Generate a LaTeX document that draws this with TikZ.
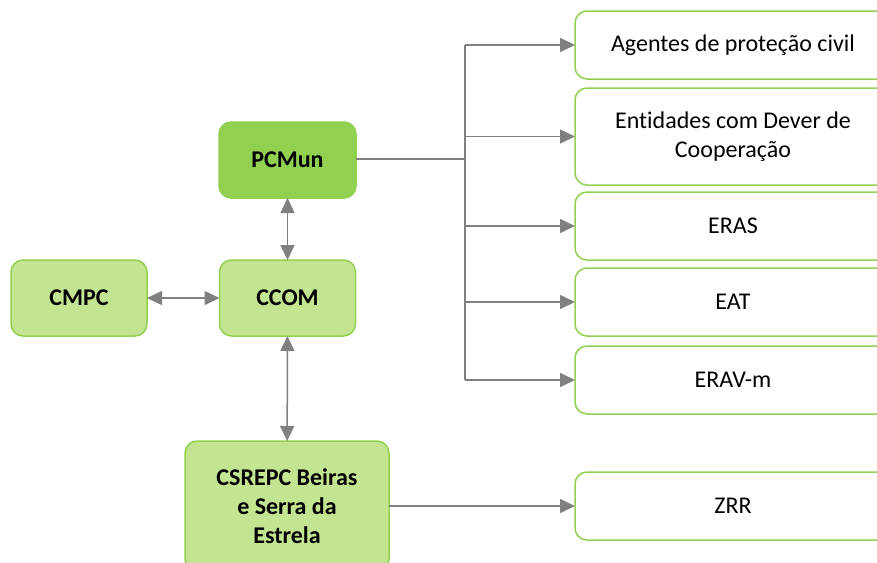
\documentclass[tikz,border=0pt]{standalone}
\usepackage{fontspec}
\setmainfont{Carlito}[Ligatures=NoCommon]
\usetikzlibrary{arrows.meta,positioning}
\definecolor{cDark}{HTML}{92D050}
\definecolor{cLite}{HTML}{C3E592}
\definecolor{cLink}{HTML}{808080}
\tikzset{
  org/.style  ={draw=cDark,line width=1.5pt,rounded corners=12pt,align=center,
                inner sep=4pt,font=\bfseries\fontsize{24}{29.3}\selectfont},
  main/.style ={org,fill=cDark,minimum width=137pt,minimum height=76pt},
  sub/.style  ={org,fill=cLite,minimum width=136pt,minimum height=76pt},
  unit/.style ={draw=cDark,fill=white,line width=1.5pt,rounded corners=12pt,
                align=center,anchor=west,minimum width=316pt,minimum height=68pt,
                font=\fontsize{24}{29.3}\selectfont},
  lnk/.style  ={draw=cLink,line width=1.5pt,-{Triangle[length=15pt,width=14pt]}},
  dlnk/.style ={lnk,{Triangle[length=15pt,width=14pt]}-{Triangle[length=15pt,width=14pt]}},
  trunk/.style={draw=cLink,line width=1.5pt},
}

\begin{document}
\begin{tikzpicture}[x=1pt,y=1pt,every node/.style={outer sep=0pt}]
\useasboundingbox (0,0) rectangle (877,-562);
\clip (0,0) rectangle (877,-562);

% command chain on the left
\node[main]                                        (pcm)  at (287.5,-160) {PCMun};
\node[sub]                                         (ccom) at (287.5,-298) {CCOM};
\node[sub]                                         (cmpc) at (79,-298)    {CMPC};
\node[sub,minimum width=204pt,minimum height=130pt] (csr)  at (287,-506)
  {CSREPC Beiras\\ e Serra da\\ Estrela};

\draw[dlnk] (pcm) -- (ccom);
\draw[dlnk] (cmpc) -- (ccom);
\draw[dlnk] (ccom) -- (csr);

% units on the right
\node[unit,minimum height=97pt] (ent)  at (575,-136.5) {Entidades com Dever de\\ Cooperação};
\node[unit]                     (ag)   at (575,-45)    {Agentes de proteção civil};
\node[unit]                     (eras) at (575,-226)   {ERAS};
\node[unit]                     (eat)  at (575,-302)   {EAT};
\node[unit]                     (erav) at (575,-380)   {ERAV-m};
\node[unit]                     (zrr)  at (575,-506)   {ZRR};

% distribution trunk from PCMun
\coordinate (trk)  at (465,-159);
\coordinate (ttop) at (465,-45);
\coordinate (tbot) at (465,-380);
\draw[trunk] (pcm.east |- trk) -- (trk);
\draw[trunk] (ttop) -- (tbot);
\foreach \u in {ag,ent,eras,eat,erav}
  \draw[lnk] (trk |- \u.west) -- (\u.west);

\draw[lnk] (csr.east) -- (zrr.west);
\end{tikzpicture}
\end{document}
